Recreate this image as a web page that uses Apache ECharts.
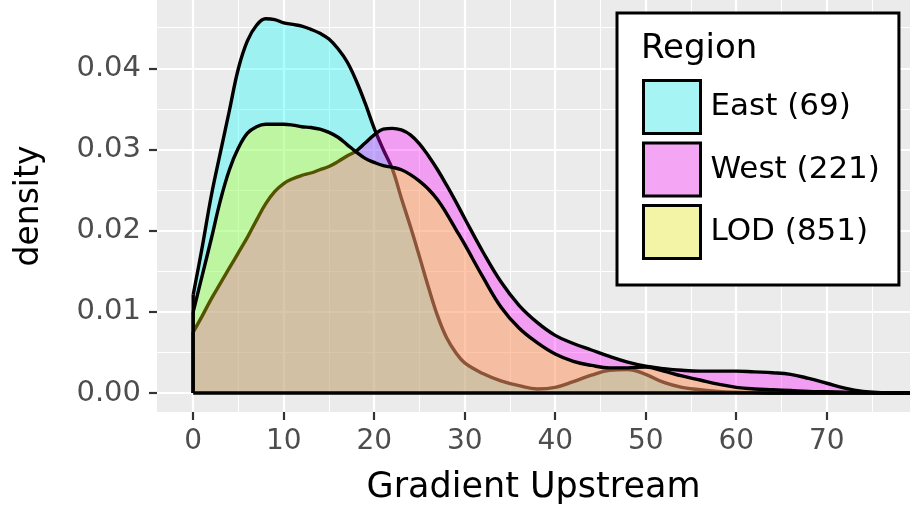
<!DOCTYPE html>
<html>
<head>
<meta charset="utf-8">
<title>density by region</title>
<script src="https://cdn.jsdelivr.net/npm/echarts@6/dist/echarts.min.js"></script>
<style>
  html, body { margin: 0; padding: 0; background: #fff; }
  #chart { width: 910px; height: 509px; }
</style>
</head>
<body>
<div id="chart"></div>
<script>
// x positions of the density estimate
var gradX = [0, 1, 2, 3, 4, 5, 6, 7, 8, 9, 10, 11, 12, 13, 14, 15, 16, 17, 18, 19, 20,
  21, 22, 23, 24, 25, 26, 27, 28, 29, 30, 32, 34, 36, 38, 40, 42, 44, 46, 48, 50,
  52, 54, 56, 58, 60, 62, 64, 66, 68, 70, 72, 74, 76, 78, 80];

var eastDensity = [0.0121, 0.0180, 0.0243, 0.0296, 0.0348, 0.0400, 0.0434, 0.0453, 0.0461, 0.0460, 0.0456,
  0.0454, 0.0452, 0.0448, 0.0443, 0.0436, 0.0424, 0.0408, 0.0385, 0.0357, 0.0326,
  0.0300, 0.0276, 0.0240, 0.0205, 0.0168, 0.0130, 0.0095, 0.0068, 0.0050, 0.0037,
  0.0024, 0.0015, 0.0009, 0.0005, 0.0007, 0.0014, 0.0022, 0.0028, 0.0029, 0.0023,
  0.0013, 0.0007, 0.0004, 0.0002, 0.0001, 0.00005, 0, 0, 0, 0, 0, 0, 0, 0, 0];

var westDensity = [0.0075, 0.0095, 0.0116, 0.0135, 0.0154, 0.0173, 0.0192, 0.0213, 0.0233, 0.0248, 0.0258,
  0.0264, 0.0268, 0.0271, 0.0275, 0.0279, 0.0285, 0.0292, 0.0298, 0.0308, 0.0318,
  0.0325, 0.0326, 0.0324, 0.0318, 0.0307, 0.0292, 0.0275, 0.0256, 0.0236, 0.0215,
  0.0174, 0.0137, 0.0108, 0.0087, 0.0071, 0.0061, 0.0053, 0.0045, 0.0038, 0.0033,
  0.0030, 0.0028, 0.0027, 0.0027, 0.0027, 0.0026, 0.0025, 0.0023, 0.0018, 0.0012,
  0.0006, 0.0002, 0.00005, 0, 0];

var lodDensity = [0.0100, 0.0145, 0.0190, 0.0237, 0.0275, 0.0302, 0.0320, 0.0328, 0.0331, 0.0331, 0.0331,
  0.0330, 0.0328, 0.0327, 0.0325, 0.0321, 0.0315, 0.0306, 0.0297, 0.0289, 0.0284,
  0.0280, 0.0278, 0.0275, 0.0269, 0.0261, 0.0251, 0.0238, 0.0221, 0.0202, 0.0183,
  0.0143, 0.0106, 0.0080, 0.0062, 0.0048, 0.0039, 0.0034, 0.0031, 0.0031, 0.0032,
  0.0027, 0.0021, 0.0016, 0.0011, 0.0007, 0.0005, 0.0004, 0.0003, 0.0002, 0.00015,
  0.0001, 0.00005, 0, 0, 0];

var regionNames = ['East (69)', 'West (221)', 'LOD (851)'];
var xTicks = [0, 10, 20, 30, 40, 50, 60, 70];
var yTicks = [0, 0.01, 0.02, 0.03, 0.04];

var font = 'DejaVu Sans';
var fills = ['rgba(0,255,255,0.33)', 'rgba(255,0,255,0.33)', 'rgba(255,255,0,0.33)'];
var keyFills = ['#A6F4F4', '#F4A6F4', '#F4F4A6'];
var outline = 3.4;

function curve(ys) {
  return gradX.map(function (x, i) { return [x, ys[i]]; });
}

// each group gets its own z so the next fill is painted over the previous outline
function densitySeries(name, ys, fill, z) {
  return {
    name: name,
    type: 'line',
    data: curve(ys),
    smooth: 0.4,
    symbol: 'none',
    lineStyle: { color: '#000', width: outline },
    areaStyle: { color: fill, opacity: 1 },
    itemStyle: { color: fill },
    z: z
  };
}

// the left side of each polygon, from the baseline up to the first value
function edgeSeries(name, ys, z) {
  return {
    name: name + ' edge',
    type: 'line',
    data: [[gradX[0], 0], [gradX[0], ys[0]]],
    symbol: 'none',
    lineStyle: { color: '#000', width: outline },
    silent: true,
    z: z
  };
}

var chart = echarts.init(document.getElementById('chart'));
chart.setOption({
  animation: false,
  grid: {
    left: 157, right: 0, top: 0, bottom: 97,
    outerBoundsMode: 'none',
    containLabel: false,
    show: true, backgroundColor: '#EBEBEB', borderWidth: 0
  },
  xAxis: {
    type: 'value',
    min: -4,
    max: 79.2,
    splitNumber: 8,
    axisLine: { show: false, onZero: false },
    axisTick: { customValues: xTicks, length: 8, lineStyle: { color: '#333', width: 2.2 } },
    axisLabel: { customValues: xTicks, margin: 16, fontSize: 28, fontFamily: font, color: '#4D4D4D' },
    splitLine: { lineStyle: { color: '#fff', width: 2.2 } },
    minorTick: { show: false, splitNumber: 2 },
    minorSplitLine: { show: true, lineStyle: { color: '#fff', width: 1.1 } },
    name: 'Gradient Upstream',
    nameLocation: 'middle',
    nameGap: 58,
    nameTextStyle: { fontSize: 35, fontFamily: font, color: '#000' }
  },
  yAxis: {
    type: 'value',
    min: -0.00234,
    max: 0.04841,
    splitNumber: 5,
    axisLine: { show: false, onZero: false },
    axisTick: { customValues: yTicks, length: 8, lineStyle: { color: '#333', width: 2.2 } },
    axisLabel: {
      customValues: yTicks, margin: 16, fontSize: 29, fontFamily: font, color: '#4D4D4D',
      formatter: function (v) { return v.toFixed(2); }
    },
    splitLine: { lineStyle: { color: '#fff', width: 2.2 } },
    minorTick: { show: false, splitNumber: 2 },
    minorSplitLine: { show: true, lineStyle: { color: '#fff', width: 1.1 } },
    name: 'density',
    nameLocation: 'middle',
    nameRotate: 90,
    nameGap: 111,
    nameTextStyle: { fontSize: 33, fontFamily: font, color: '#000' }
  },
  legend: {
    orient: 'vertical',
    left: 617,
    top: 13,
    padding: [66, 19, 25, 25],
    itemWidth: 57,
    itemHeight: 53,
    itemGap: 6.5,
    icon: 'rect',
    backgroundColor: '#fff',
    borderColor: '#000',
    borderWidth: 3,
    borderRadius: 0,
    selectedMode: false,
    textStyle: { fontSize: 31, fontFamily: font, color: '#000', padding: [0, 0, 0, 5] },
    data: regionNames.map(function (n, i) {
      return { name: n, itemStyle: { color: keyFills[i], borderColor: '#000', borderWidth: 3 } };
    })
  },
  graphic: [{
    type: 'text',
    left: 641,
    top: 32,
    z: 100,
    style: { text: 'Region', font: '34px "DejaVu Sans"', fill: '#000' }
  }],
  series: [
    densitySeries(regionNames[0], eastDensity, fills[0], 2),
    edgeSeries(regionNames[0], eastDensity, 2),
    densitySeries(regionNames[1], westDensity, fills[1], 3),
    edgeSeries(regionNames[1], westDensity, 3),
    densitySeries(regionNames[2], lodDensity, fills[2], 4),
    edgeSeries(regionNames[2], lodDensity, 4),
    {
      name: 'baseline',
      type: 'line',
      data: gradX.map(function (x) { return [x, 0]; }),
      symbol: 'none',
      lineStyle: { color: '#000', width: 3.4 },
      silent: true,
      z: 5
    }
  ]
});
</script>
</body>
</html>
